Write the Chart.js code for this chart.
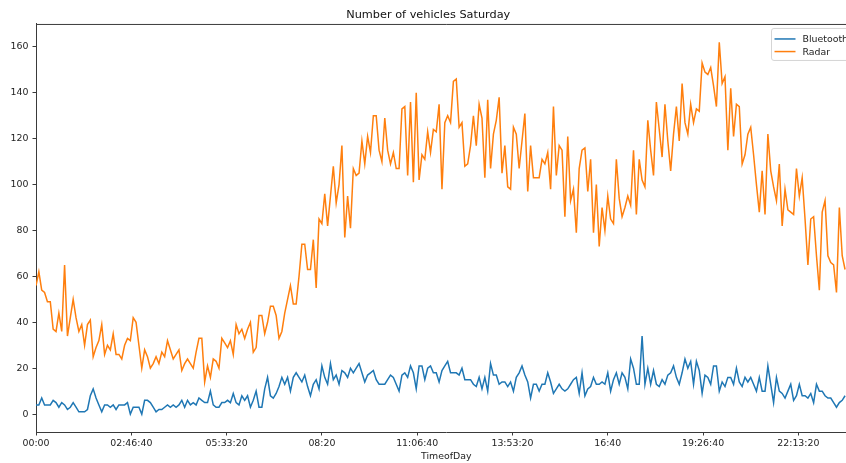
<!DOCTYPE html>
<html>
<head>
<meta charset="utf-8">
<script src="https://cdn.jsdelivr.net/npm/chart.js@4/dist/chart.umd.min.js"></script>
<style>
  html, body { margin: 0; padding: 0; background: #fff; overflow: hidden; }
  #wrap { width: 860px; height: 463px; }
</style>
</head>
<body>
<div id="wrap"><canvas id="vehiclesChart" width="860" height="463"></canvas></div>
<script>
// Samples every 5 minutes starting at midnight
const stepSeconds = 300;

const bluetooth = [
  4, 4, 7, 4, 4, 4, 6, 5, 3, 5,
  4, 2, 3, 5, 3, 1, 1, 1, 2, 8,
  11, 7, 4, 1, 4, 4, 3, 4, 2, 4,
  4, 4, 5, 0, 3, 3, 3, 0, 6, 6,
  5, 3, 1, 2, 2, 3, 4, 3, 4, 3,
  4, 6, 3, 6, 4, 5, 4, 7, 6, 5,
  5, 10, 4, 3, 3, 5, 5, 6, 5, 9,
  5, 4, 8, 6, 8, 3, 6, 10, 3, 3,
  11, 16, 8, 7, 9, 12, 16, 13, 16, 10,
  16, 18, 16, 14, 17, 12, 8, 13, 15, 11,
  21, 16, 13, 22, 15, 17, 13, 19, 18, 16,
  20, 18, 20, 22, 18, 14, 17, 18, 19, 15,
  13, 13, 13, 15, 17, 16, 13, 10, 17, 18,
  16, 21, 18, 11, 21, 21, 15, 20, 21, 18,
  18, 14, 19, 21, 23, 18, 18, 18, 17, 20,
  15, 15, 15, 13, 12, 16, 11, 16, 10, 22,
  17, 17, 13, 14, 14, 12, 14, 10, 16, 18,
  21, 17, 14, 7, 13, 13, 10, 13, 13, 18,
  14, 9, 11, 13, 11, 10, 11, 13, 15, 16,
  9, 18, 8, 11, 12, 16, 13, 13, 14, 13,
  18, 10, 15, 18, 13, 18, 16, 11, 24, 20,
  13, 13, 34, 13, 20, 13, 19, 13, 12, 15,
  13, 17, 18, 21, 16, 13, 18, 24, 20, 23,
  13, 23, 19, 9, 17, 16, 13, 21, 21, 10,
  14, 12, 16, 16, 13, 20, 14, 12, 16, 14,
  16, 13, 10, 16, 10, 10, 21, 13, 5, 16,
  10, 9, 7, 10, 13, 6, 8, 13, 8, 8,
  7, 9, 5, 13, 10, 10, 8, 7, 7, 5,
  3, 5, 6, 8
];

const radar = [
  56, 62, 54, 53, 49, 49, 37, 36, 44, 36,
  65, 34, 42, 50, 42, 36, 39, 30, 39, 41,
  25, 29, 32, 39, 26, 30, 28, 35, 26, 26,
  24, 30, 33, 32, 42, 40, 30, 20, 28, 25,
  20, 22, 25, 22, 27, 25, 32, 28, 24, 26,
  28, 19, 22, 24, 22, 20, 27, 33, 33, 14,
  21, 16, 24, 23, 20, 33, 31, 29, 32, 26,
  39, 35, 37, 33, 37, 40, 27, 29, 43, 43,
  35, 40, 47, 47, 43, 33, 36, 44, 50, 56,
  48, 48, 60, 74, 74, 63, 63, 76, 55, 85,
  83, 96, 82, 95, 108, 92, 100, 117, 77, 95,
  81, 107, 104, 105, 119, 109, 121, 114, 130, 130,
  115, 110, 129, 115, 109, 114, 107, 107, 133, 134,
  104, 136, 101, 140, 102, 113, 111, 123, 114, 124,
  123, 135, 98, 127, 130, 127, 145, 146, 125, 127,
  108, 109, 117, 130, 117, 135, 129, 103, 137, 107,
  122, 128, 138, 105, 117, 99, 98, 125, 122, 107,
  119, 131, 97, 117, 103, 103, 103, 111, 109, 114,
  98, 134, 104, 117, 115, 86, 121, 93, 98, 79,
  107, 115, 116, 97, 111, 79, 100, 73, 90, 80,
  95, 85, 83, 111, 94, 86, 90, 95, 91, 115,
  87, 111, 102, 99, 128, 115, 104, 136, 124, 112,
  135, 119, 106, 122, 134, 119, 144, 127, 122, 135,
  127, 133, 132, 153, 149, 148, 151, 143, 134, 162,
  144, 147, 115, 142, 121, 135, 134, 109, 113, 122,
  125, 113, 100, 88, 106, 87, 122, 106, 99, 93,
  109, 82, 98, 89, 88, 87, 107, 95, 103, 85,
  65, 85, 86, 69, 54, 88, 93, 69, 66, 65,
  53, 90, 69, 63
];

const xTickSeconds = [0, 10000, 20000, 30000, 40000, 50000, 60000, 70000, 80000];
const xTickLabels = ["00:00", "02:46:40", "05:33:20", "08:20", "11:06:40", "13:53:20", "16:40", "19:26:40", "22:13:20"];
const yTicks = [0, 20, 40, 60, 80, 100, 120, 140, 160];

const dayEndSeconds = 86100; // 23:55, last sample of the day
const axisColor = "#3a3a3a";
const textColor = "#222";
const fontFamily = "'DejaVu Sans', sans-serif";

const toPoints = (values) => values.map((v, i) => ({ x: i * stepSeconds, y: v }));

// top spine + matplotlib-style legend box inside the axes
const frameAndLegend = {
  id: "frameAndLegend",
  afterDatasetsDraw(chart) {
    const { ctx, chartArea: a } = chart;
    ctx.save();
    ctx.strokeStyle = axisColor;
    ctx.lineWidth = 1;
    ctx.beginPath();
    ctx.moveTo(a.left, a.top + 0.5);
    ctx.lineTo(a.right, a.top + 0.5);
    ctx.moveTo(a.right - 0.5, a.top);
    ctx.lineTo(a.right - 0.5, a.bottom);
    ctx.stroke();

    const w = 79.5, h = 32;
    const x = a.right - 5.5 - w, y = a.top + 4.5;
    ctx.fillStyle = "rgba(255,255,255,0.8)";
    ctx.strokeStyle = "#d5d5d5";
    ctx.beginPath();
    ctx.roundRect(x, y, w, h, 2.5);
    ctx.fill();
    ctx.stroke();

    ctx.font = "9.4px " + fontFamily;
    ctx.textBaseline = "middle";
    ctx.textAlign = "left";
    chart.data.datasets.forEach((ds, k) => {
      const ly = y + 10.5 + k * 12.6;
      ctx.strokeStyle = ds.borderColor;
      ctx.lineWidth = 1.5;
      ctx.beginPath();
      ctx.moveTo(x + 3, ly);
      ctx.lineTo(x + 24, ly);
      ctx.stroke();
      ctx.fillStyle = textColor;
      ctx.fillText(ds.label, x + 31, ly + 0.5);
    });
    ctx.restore();
  }
};

const ctx = document.getElementById("vehiclesChart").getContext("2d");
new Chart(ctx, {
  type: "line",
  data: {
    datasets: [
      {
        label: "Bluetooth",
        data: toPoints(bluetooth),
        borderColor: "#1f77b4",
        borderWidth: 1.5,
        pointRadius: 0,
        tension: 0
      },
      {
        label: "Radar",
        data: toPoints(radar),
        borderColor: "#ff7f0e",
        borderWidth: 1.5,
        pointRadius: 0,
        tension: 0
      }
    ]
  },
  options: {
    responsive: false,
    animation: false,
    events: [],
    layout: { padding: { left: 0, right: 3.5, top: 0, bottom: 0 } },
    plugins: {
      legend: { display: false },
      tooltip: { enabled: false },
      title: {
        display: true,
        text: "Number of vehicles Saturday",
        color: "#111",
        font: { family: fontFamily, size: 11.3, weight: "normal" },
        padding: { top: 8, bottom: 2.4 }
      }
    },
    scales: {
      x: {
        type: "linear",
        min: 0,
        max: dayEndSeconds,
        afterBuildTicks: (scale) => { scale.ticks = xTickSeconds.map(v => ({ value: v })); },
        afterFit: (scale) => { scale.height = 31; },
        ticks: {
          autoSkip: false,
          maxRotation: 0,
          padding: 2,
          color: textColor,
          font: { family: fontFamily, size: 9.4 },
          callback: (value) => xTickLabels[xTickSeconds.indexOf(value)]
        },
        grid: { display: true, drawOnChartArea: false, tickLength: 3.5, color: axisColor },
        border: { display: true, color: axisColor, width: 1 },
        title: {
          display: true,
          text: "TimeofDay",
          color: textColor,
          font: { family: fontFamily, size: 9.4 },
          padding: { top: 0, bottom: 1 }
        }
      },
      y: {
        min: -7.8,
        max: 170,
        afterBuildTicks: (scale) => { scale.ticks = yTicks.map(v => ({ value: v })); },
        afterFit: (scale) => { scale.width = 36; },
        ticks: {
          padding: 4,
          color: textColor,
          font: { family: fontFamily, size: 9.4 }
        },
        grid: { display: true, drawOnChartArea: false, tickLength: 3.5, color: axisColor },
        border: { display: true, color: axisColor, width: 1 }
      }
    }
  },
  plugins: [frameAndLegend]
});
</script>
</body>
</html>
